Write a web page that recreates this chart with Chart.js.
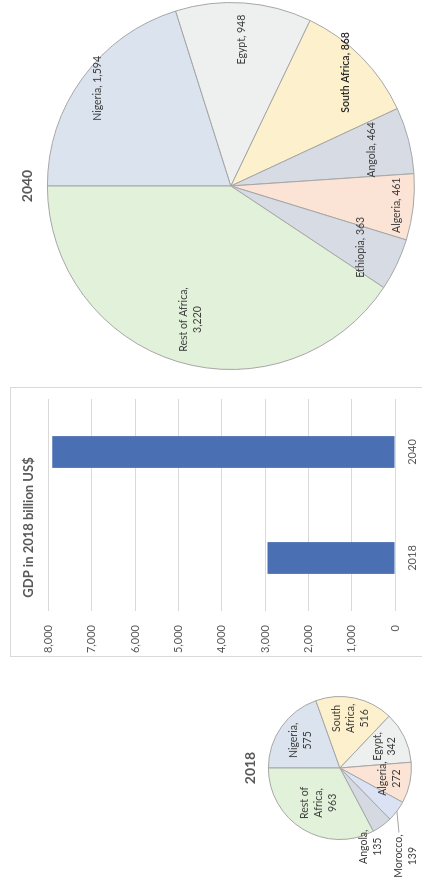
<!DOCTYPE html>
<html>
<head>
<meta charset="utf-8">
<script src="https://cdn.jsdelivr.net/npm/chart.js@4.4.1/dist/chart.umd.min.js"></script>
<style>
  html, body { margin: 0; padding: 0; background: #fff; overflow: hidden; }
  body { width: 422px; height: 877px; position: relative; }
  /* the sheet is laid out landscape and turned a quarter to fit the portrait page */
  #sheet {
    position: absolute; left: 0; top: 0; width: 877px; height: 422px;
    background: #fff; transform-origin: 0 0;
    transform: translate(0, 877px) rotate(-90deg);
  }
  #sheet canvas { position: absolute; }
  #barBox {
    position: absolute; left: 220px; top: 10px; width: 270px; height: 430px;
    border: 1px solid #d9d9d9; box-sizing: border-box;
  }
</style>
</head>
<body>
<div id="sheet">
  <canvas id="pie2018" width="218" height="190" style="left:0;top:232px"></canvas>
  <div id="barBox">
    <canvas id="gdpBars" width="268" height="420" style="left:0;top:0"></canvas>
  </div>
  <canvas id="pie2040" width="377" height="422" style="left:500px;top:0"></canvas>
</div>

<script>
// GDP, billion US$ at 2018 prices
const countries2018 = ['Nigeria', 'South Africa', 'Egypt', 'Algeria', 'Morocco', 'Angola', 'Rest of Africa'];
const gdp2018 = [575, 516, 342, 272, 139, 135, 963];
const colors2018 = ['#dbe3ee', '#fdf0cd', '#eef0ef', '#fbe3d5', '#dae2f3', '#d5d9e2', '#e2f1d9'];

const countries2040 = ['Nigeria', 'Egypt', 'South Africa', 'Angola', 'Algeria', 'Ethiopia', 'Rest of Africa'];
const gdp2040 = [1594, 948, 868, 464, 461, 363, 3220];
const colors2040 = ['#dbe3ee', '#eef0ef', '#fdf0cd', '#d6dbe4', '#fbe3d5', '#d6dbe4', '#e2f1d9'];

const years = ['2018', '2040'];
const totals = [2942, 7918];
const axisMax = 8000;
const axisStep = 1000;

const FONT = 'Lato, "Open Sans", sans-serif';
const INK = '#595959';

// where each slice label sits: r = share of the radius, turn = degrees past the slice middle
const places2018 = [
  { r: 0.67 }, { r: 0.71 }, { r: 0.70 }, { r: 0.71 },
  { r: 1.54, turn: 16, leader: true }, { r: 1.18, turn: 15 }, { r: 0.57 }
];
const places2040 = [
  { r: 0.90 }, { r: 0.80 }, { r: 0.88, bold: true }, { r: 0.79 },
  { r: 0.91 }, { r: 0.78 }, { r: 0.76 }
];

function wrapWords(ctx, text, maxWidth) {
  const words = text.split(' ');
  const lines = [];
  let line = '';
  words.forEach(w => {
    const test = line ? line + ' ' + w : w;
    if (line && ctx.measureText(test).width > maxWidth) {
      lines.push(line);
      line = w;
    } else {
      line = test;
    }
  });
  lines.push(line);
  return lines;
}

// draws "Name, value" inside (or beside) each slice
const sliceLabels = {
  id: 'sliceLabels',
  afterDatasetsDraw(chart, args, opts) {
    const { ctx } = chart;
    const meta = chart.getDatasetMeta(0);
    const names = chart.data.labels;
    const values = chart.data.datasets[0].data;
    ctx.save();
    ctx.textAlign = 'center';
    ctx.textBaseline = 'middle';
    meta.data.forEach((arc, i) => {
      const place = opts.places[i];
      const p = arc.getProps(['x', 'y', 'startAngle', 'endAngle', 'outerRadius'], true);
      const mid = (p.startAngle + p.endAngle) / 2;
      const ang = mid + (place.turn || 0) * Math.PI / 180;
      const lx = p.x + Math.cos(ang) * p.outerRadius * place.r;
      const ly = p.y + Math.sin(ang) * p.outerRadius * place.r;
      ctx.font = (place.bold ? '600 ' : '') + opts.size + 'px ' + FONT;
      const text = names[i] + ', ' + values[i].toLocaleString('en-US');
      const lines = wrapWords(ctx, text, opts.wrap);
      const top = ly - (lines.length - 1) * opts.lineHeight / 2;
      if (place.leader) {
        const w = Math.max(...lines.map(l => ctx.measureText(l).width));
        ctx.strokeStyle = '#a6a6a6';
        ctx.lineWidth = 1;
        ctx.beginPath();
        ctx.moveTo(p.x + Math.cos(mid) * p.outerRadius, p.y + Math.sin(mid) * p.outerRadius);
        ctx.lineTo(lx + w / 2 + 2, top);
        ctx.stroke();
      }
      ctx.fillStyle = place.bold ? '#262626' : '#404040';
      lines.forEach((l, k) => ctx.fillText(l, lx, top + k * opts.lineHeight));
    });
    ctx.restore();
  }
};

function pieChart(id, year, names, values, colors, places, layout, titlePad, labelOpts) {
  return new Chart(document.getElementById(id), {
    type: 'pie',
    data: {
      labels: names,
      datasets: [{
        data: values,
        backgroundColor: colors,
        borderColor: '#a6a6a6',
        borderWidth: 1
      }]
    },
    options: {
      responsive: false,
      animation: false,
      layout: { padding: layout },
      plugins: {
        legend: { display: false },
        tooltip: { enabled: false },
        title: {
          display: true,
          text: year,
          color: INK,
          font: { family: FONT, size: 14, weight: 'bold' },
          padding: titlePad
        },
        sliceLabels: Object.assign({ places: places }, labelOpts)
      }
    },
    plugins: [sliceLabels]
  });
}

pieChart('pie2018', years[0], countries2018, gdp2018, colors2018, places2018,
  { left: 37, right: 37, top: 0, bottom: 10 }, { top: 10, bottom: 9 },
  { size: 10.5, lineHeight: 14, wrap: 45 });

pieChart('pie2040', years[1], countries2040, gdp2040, colors2040, places2040,
  { left: 7, right: 2, top: 0, bottom: 7 }, { top: 19, bottom: 11 },
  { size: 10.5, lineHeight: 14, wrap: 90 });

// total GDP column chart
new Chart(document.getElementById('gdpBars'), {
  type: 'bar',
  data: {
    labels: years,
    datasets: [{
      data: totals,
      backgroundColor: '#4a6fb2',
      categoryPercentage: 0.6,
      barPercentage: 0.5
    }]
  },
  options: {
    responsive: false,
    animation: false,
    layout: { padding: { left: 0, right: 11, top: 0, bottom: 0 } },
    plugins: {
      legend: { display: false },
      tooltip: { enabled: false },
      title: {
        display: true,
        text: 'GDP in 2018 billion US$',
        color: INK,
        font: { family: FONT, size: 13, weight: 'bold' },
        padding: { top: 10, bottom: 12 }
      }
    },
    scales: {
      x: {
        grid: { display: false, drawTicks: false },
        border: { display: false },
        ticks: { color: INK, font: { family: FONT, size: 11 }, padding: 11 },
        afterFit: s => { s.height = 36; }
      },
      y: {
        min: 0,
        max: axisMax,
        grid: { color: '#d9d9d9', drawTicks: false },
        border: { display: false },
        ticks: { stepSize: axisStep, color: INK, font: { family: FONT, size: 11 }, padding: 14 },
        afterFit: s => { s.width = 45; }
      }
    }
  }
});
</script>
</body>
</html>
